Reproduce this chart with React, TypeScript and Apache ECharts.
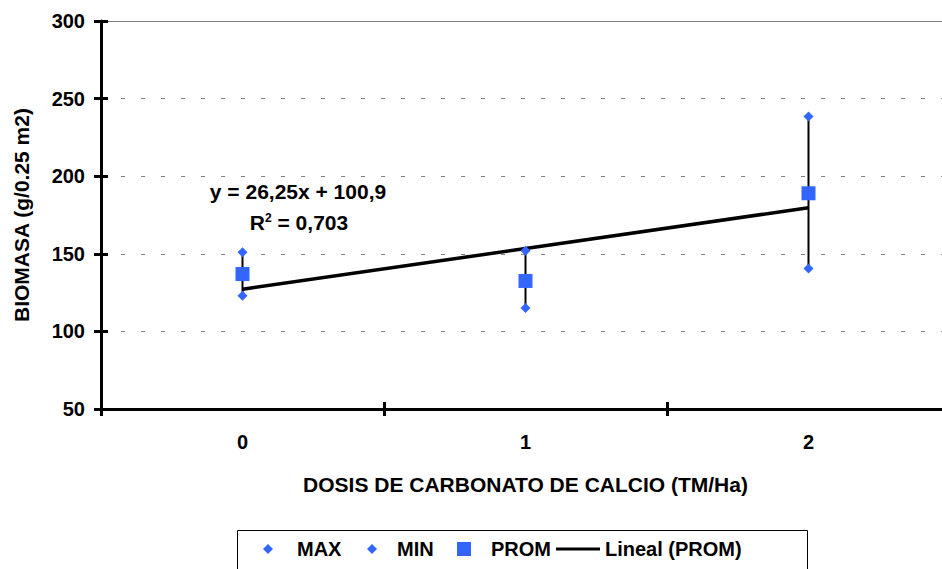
import React, { useEffect, useRef } from "react";
import * as echarts from "echarts";

const categories = ["0", "1", "2"];
const maxValues = [151, 152, 238.5];
const minValues = [123, 115, 140.5];
const promValues = [137, 132.5, 189];
const trendValues = [127.2, 153.4, 179.7];
const yTicks = { min: 50, max: 300, interval: 50 };
const equationText = "y = 26,25x + 100,9";
const r2Text = "{r|R}{s|2}{r| = 0,703}";

const FONT = "'Liberation Sans', Arial, sans-serif";
const BLUE = "#3366FF";

export default function App() {
  const ref = useRef<HTMLDivElement>(null);
  useEffect(() => {
    if (!ref.current) return;
    const chart = echarts.init(ref.current, undefined, { renderer: "svg" });
    const hiLo = categories.map((_, i) => [i, minValues[i], maxValues[i]]);
    const tickStyle = { fontFamily: FONT, fontWeight: "bold" as const, fontSize: 20, color: "#000" };
    const nameStyle = { fontFamily: FONT, fontWeight: "bold" as const, fontSize: 21, color: "#000" };
    const legendText = { fontFamily: FONT, fontWeight: "bold" as const, fontSize: 20, color: "#000" };
    chart.setOption({
      animation: false,
      backgroundColor: "#fff",
      grid: { left: 101, top: 21, width: 849, height: 388 },
      xAxis: [
        {
          type: "category",
          data: categories,
          position: "bottom",
          boundaryGap: true,
          axisLine: { lineStyle: { color: "#000", width: 3 } },
          axisTick: { show: true, interval: 0, length: 7, lineStyle: { color: "#000", width: 3 } },
          axisLabel: { ...tickStyle, margin: 23 },
          name: "DOSIS DE CARBONATO DE CALCIO (TM/Ha)",
          nameLocation: "middle",
          nameGap: 65,
          nameTextStyle: { ...nameStyle },
          splitLine: { show: false },
        },
        {
          type: "category",
          data: categories,
          position: "top",
          axisLine: { show: true, lineStyle: { color: "#808080", width: 1 } },
          axisTick: { show: false },
          axisLabel: { show: false },
          splitLine: { show: false },
        },
        {
          type: "category",
          data: categories,
          position: "bottom",
          axisLine: { show: false },
          axisTick: { show: true, inside: true, interval: 0, length: 7, lineStyle: { color: "#000", width: 3 } },
          axisLabel: { show: false },
          splitLine: { show: false },
        },
      ],
      yAxis: [
        {
          type: "value",
          min: yTicks.min,
          max: yTicks.max,
          interval: yTicks.interval,
          axisLine: { show: true, lineStyle: { color: "#000", width: 3 } },
          axisTick: { show: true, length: 7, lineStyle: { color: "#000", width: 3 } },
          axisLabel: { ...tickStyle, margin: 16 },
          splitLine: { show: true, lineStyle: { color: "#808080", width: 1, type: [4, 16] } },
          name: "BIOMASA (g/0.25 m2)",
          nameLocation: "middle",
          nameGap: 69,
          nameTextStyle: { ...nameStyle },
        },
        {
          type: "value",
          min: yTicks.min,
          max: yTicks.max,
          interval: yTicks.interval,
          position: "left",
          axisLine: { show: false },
          axisTick: { show: true, inside: true, length: 7, lineStyle: { color: "#000", width: 3 } },
          axisLabel: { show: false },
          splitLine: { show: false },
        },
      ],
      legend: [
        {
          data: [{ name: "MAX", icon: "diamond" }],
          left: 263, top: 539, itemWidth: 10, itemHeight: 10, padding: 0, selectedMode: false,
          itemStyle: { opacity: 1 },
          textStyle: { ...legendText, padding: [0, 0, 0, 19] },
        },
        {
          data: [{ name: "MIN", icon: "diamond" }],
          left: 367, top: 539, itemWidth: 10, itemHeight: 10, padding: 0, selectedMode: false,
          itemStyle: { opacity: 1 },
          textStyle: { ...legendText, padding: [0, 0, 0, 15] },
        },
        {
          data: [{ name: "PROM", icon: "rect" }],
          left: 457, top: 539, itemWidth: 14, itemHeight: 14, padding: 0, selectedMode: false,
          itemStyle: { opacity: 1 },
          textStyle: { ...legendText, padding: [0, 0, 0, 15] },
        },
        {
          data: [{ name: "Lineal (PROM)", icon: "rect" }],
          left: 556, top: 539, itemWidth: 44, itemHeight: 3, padding: 0, selectedMode: false,
          itemStyle: { color: "#000", opacity: 1 },
          textStyle: { ...legendText },
        },
      ],
      graphic: [
        {
          type: "rect",
          shape: { x: 237.5, y: 530.5, width: 570, height: 50 },
          style: { fill: "none", stroke: "#000", lineWidth: 1 },
          silent: true,
        },
        {
          type: "text",
          x: 298, y: 191,
          style: { text: equationText, font: `bold 21px ${FONT}`, fill: "#000", align: "center", verticalAlign: "middle" },
        },
        {
          type: "text",
          x: 299, y: 222,
          style: {
            text: r2Text,
            align: "center",
            verticalAlign: "middle",
            rich: {
              r: { fontFamily: FONT, fontWeight: "bold", fontSize: 21, fill: "#000" },
              s: { fontFamily: FONT, fontWeight: "bold", fontSize: 12, fill: "#000", verticalAlign: "top", padding: [0, 0, 9, 0] },
            },
          },
        },
      ],
      series: [
        {
          type: "custom",
          name: "hilo",
          data: hiLo,
          z: 1,
          renderItem: (params: any, api: any) => {
            const x = api.value(0);
            const p1 = api.coord([x, api.value(1)]);
            const p2 = api.coord([x, api.value(2)]);
            return {
              type: "line",
              shape: { x1: p1[0], y1: p1[1], x2: p2[0], y2: p2[1] },
              style: { stroke: "#000", lineWidth: 2 },
            };
          },
        },
        {
          type: "line",
          name: "Lineal (PROM)",
          data: trendValues,
          symbol: "none",
          z: 2,
          lineStyle: { color: "#000", width: 3.5 },
          itemStyle: { color: "#000" },
        },
        {
          type: "scatter",
          name: "MAX",
          data: maxValues,
          symbol: "diamond",
          symbolSize: 10,
          z: 3,
          itemStyle: { color: BLUE, opacity: 1 },
        },
        {
          type: "scatter",
          name: "MIN",
          data: minValues,
          symbol: "diamond",
          symbolSize: 10,
          z: 3,
          itemStyle: { color: BLUE, opacity: 1 },
        },
        {
          type: "scatter",
          name: "PROM",
          data: promValues,
          symbol: "rect",
          symbolSize: 14,
          z: 3,
          itemStyle: { color: BLUE, opacity: 1 },
        },
      ],
    });
    return () => chart.dispose();
  }, []);
  return (
    <div style={{ position: "fixed", left: 0, top: 0, width: 942, height: 569, overflow: "hidden", background: "#fff" }}>
      <div ref={ref} style={{ width: 960, height: 569 }} />
    </div>
  );
}
